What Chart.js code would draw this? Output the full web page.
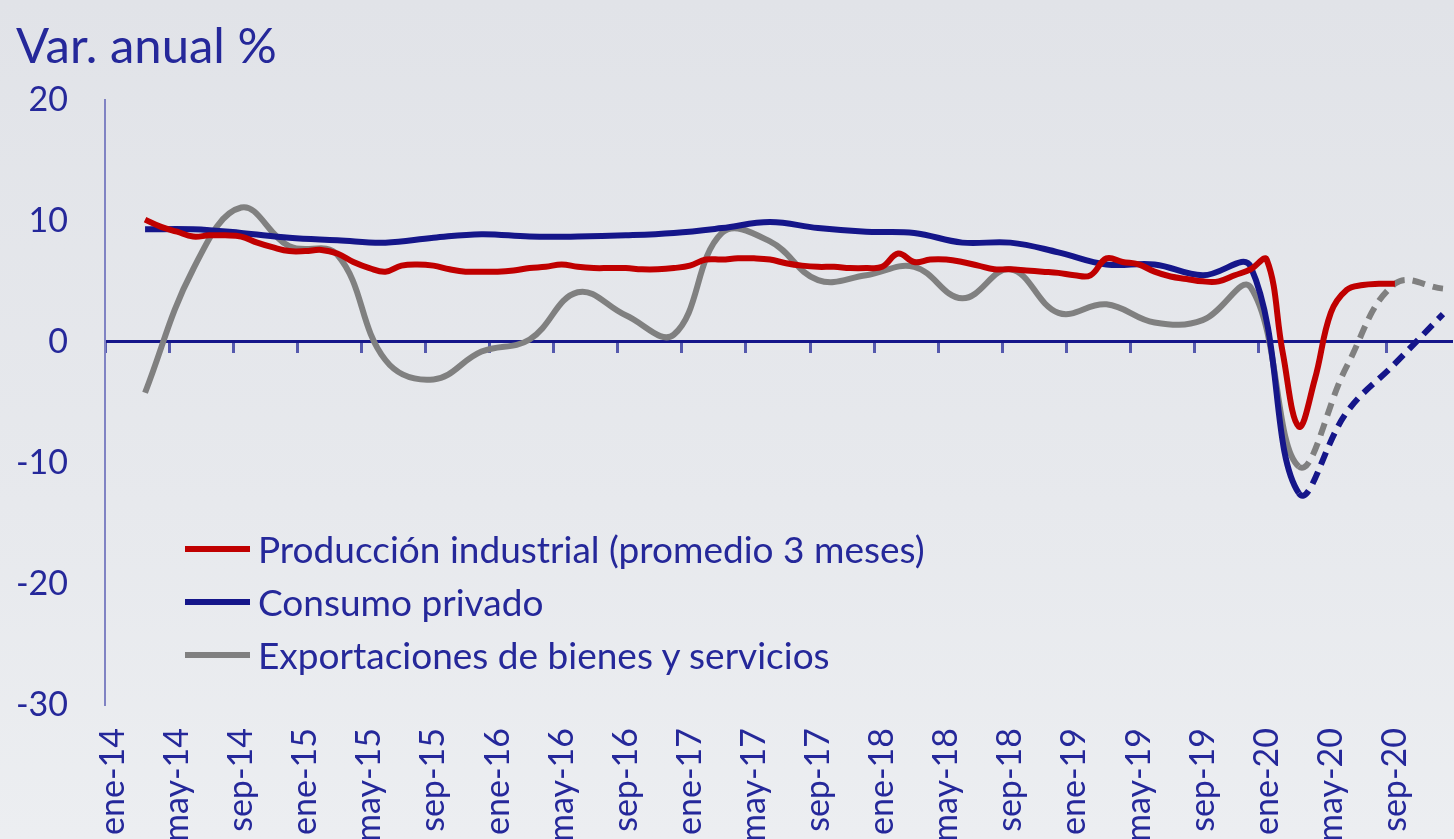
<!DOCTYPE html>
<html>
<head>
<meta charset="utf-8">
<script src="https://cdn.jsdelivr.net/npm/chart.js@4/dist/chart.umd.min.js"></script>
<style>
  html, body { margin: 0; padding: 0; overflow: hidden; width: 1454px; height: 839px; }
  body { background: linear-gradient(180deg, #e1e3e8 0%, #e7e9ed 60%, #eceef1 100%); font-family: Lato, sans-serif; }
  #wrap { position: absolute; left: 0; top: 0; width: 1454px; height: 880px; }
  #legend { position: absolute; left: 185px; top: 522px; }
  .item { display: flex; align-items: center; height: 53px; font-size: 37px; color: #25289a; }
  .swatch { width: 65px; height: 6px; margin-right: 8px; }
</style>
</head>
<body>
<div id="wrap"><canvas id="c"></canvas></div>
<div id="legend"></div>
<script>
const months = ['ene', 'feb', 'mar', 'abr', 'may', 'jun', 'jul', 'ago', 'sep', 'oct', 'nov', 'dic'];
const years = ['14', '15', '16', '17', '18', '19', '20'];

// produccion industrial, monthly, mar-14 .. sep-20
const industrial = [
  10.1, 9.5, 9.1, 8.7, 8.8, 8.8, 8.7, 8.2, 7.8, 7.5,
  7.5, 7.6, 7.3, 6.6, 6.1, 5.8, 6.3, 6.4, 6.3, 6.0, 5.8, 5.8,
  5.8, 5.9, 6.1, 6.2, 6.4, 6.2, 6.1, 6.1, 6.1, 6.0, 6.0, 6.1,
  6.3, 6.8, 6.8, 6.9, 6.9, 6.8, 6.5, 6.3, 6.2, 6.2, 6.1, 6.1,
  6.2, 7.3, 6.6, 6.8, 6.8, 6.6, 6.3, 6.0, 6.0, 5.9, 5.8, 5.7,
  5.5, 5.5, 6.9, 6.6, 6.4, 5.8, 5.4, 5.2, 5.0, 5.0, 5.5, 6.0,
  6.8, -0.9, -7.0, -3.1, 2.4, 4.3, 4.7, 4.8, 4.8
];
// consumo privado, quarterly (mar, jun, sep, dic), mar-14 .. dic-20
const consumo = [
  9.3, 9.3, 9.0, 8.6,
  8.4, 8.2, 8.6, 8.9,
  8.7, 8.7, 8.8, 9.0,
  9.4, 9.9, 9.4, 9.1,
  9.0, 8.2, 8.2, 7.4,
  6.4, 6.4, 5.5, 6.2,
  -12.5, -5.8, -1.8, 2.3
];
// exportaciones de bienes y servicios, quarterly, mar-14 .. dic-20
const exportaciones = [
  -4.2, 6.0, 11.1, 7.9,
  7.2, -1.5, -3.1, -0.8,
  0.2, 4.1, 2.2, 0.6,
  9.0, 8.3, 5.1, 5.5,
  6.2, 3.6, 6.0, 2.4,
  3.1, 1.6, 1.8, 4.5,
  -10.3, -2.0, 4.8, 4.4
];
const seriesNames = [
  'Producción industrial (promedio 3 meses)',
  'Consumo privado',
  'Exportaciones de bienes y servicios'
];
const colors = ['#c00000', '#15168a', '#808080'];
const firstIndex = 2;      // mar-14
const forecastFrom = 74;   // mar-20, dashed after this

const labels = [];
years.forEach(y => months.forEach(m => labels.push(m + '-' + y)));

function monthly(values) {
  const out = labels.map(() => null);
  values.forEach((v, i) => { out[firstIndex + i] = v; });
  return out;
}
function quarterly(values) {
  const out = labels.map(() => null);
  values.forEach((v, i) => { out[firstIndex + i * 3] = v; });
  return out;
}

const dash = c => c.p0DataIndex >= forecastFrom ? [13, 8] : undefined;
const textColor = '#25289a';
// fixed axis boxes so the plot area lands where the original has it
const fixBox = h => scale => { scale.paddingLeft = 0; scale.paddingRight = 0; scale.height = h; };

new Chart(document.getElementById('c'), {
  type: 'line',
  data: {
    labels,
    datasets: [
      { label: seriesNames[0], data: monthly(industrial), borderColor: colors[0], borderWidth: 6, tension: 0.4 },
      { label: seriesNames[1], data: quarterly(consumo), borderColor: colors[1], borderWidth: 6, tension: 0.4, spanGaps: true, segment: { borderDash: dash } },
      { label: seriesNames[2], data: quarterly(exportaciones), borderColor: colors[2], borderWidth: 6, tension: 0.4, spanGaps: true, segment: { borderDash: dash } },
    ],
  },
  options: {
    responsive: true,
    maintainAspectRatio: false,
    animation: false,
    layout: { padding: { left: 16, top: 16, right: 3, bottom: 0 } },
    elements: { point: { radius: 0 } },
    plugins: {
      legend: { display: false },
      tooltip: { enabled: false },
      title: {
        display: true, text: 'Var. anual %', align: 'start', color: textColor,
        font: { family: 'Lato', size: 49, weight: 'normal' }, padding: { top: 2, bottom: 23 },
      },
    },
    scales: {
      x: {
        offset: true,
        afterFit: fixBox(175),
        grid: { display: false, drawTicks: false },
        border: { display: false },
        ticks: {
          autoSkip: false, maxRotation: 90, minRotation: 90, padding: 23,
          color: textColor, font: { family: 'Lato', size: 34 },
          callback: function (v, i) { return i % 4 === 0 ? this.getLabelForValue(v) : ''; },
        },
      },
      x2: {
        axis: 'x',
        type: 'category',
        position: { y: 0 },
        offset: true,
        afterFit: fixBox(0),
        ticks: { display: false, autoSkip: false },
        grid: {
          offset: true, drawOnChartArea: false, drawTicks: true, tickLength: 10, lineWidth: 3,
          color: c => c.index % 4 === 0 ? '#5559ae' : 'rgba(0,0,0,0)',
        },
        border: { display: true, color: '#15168a', width: 3 },
      },
      y: {
        min: -30, max: 20,
        afterFit: scale => { scale.width = 89; },
        grid: { display: false, drawTicks: false },
        border: { display: true, color: '#8083c3', width: 2 },
        ticks: { stepSize: 10, padding: 37, color: textColor, font: { family: 'Lato', size: 34 } },
      },
    },
  },
});

const legend = document.getElementById('legend');
seriesNames.forEach((name, i) => {
  const row = document.createElement('div');
  row.className = 'item';
  const sw = document.createElement('span');
  sw.className = 'swatch';
  sw.style.background = colors[i];
  const tx = document.createElement('span');
  tx.textContent = name;
  row.appendChild(sw);
  row.appendChild(tx);
  legend.appendChild(row);
});
</script>
</body>
</html>
